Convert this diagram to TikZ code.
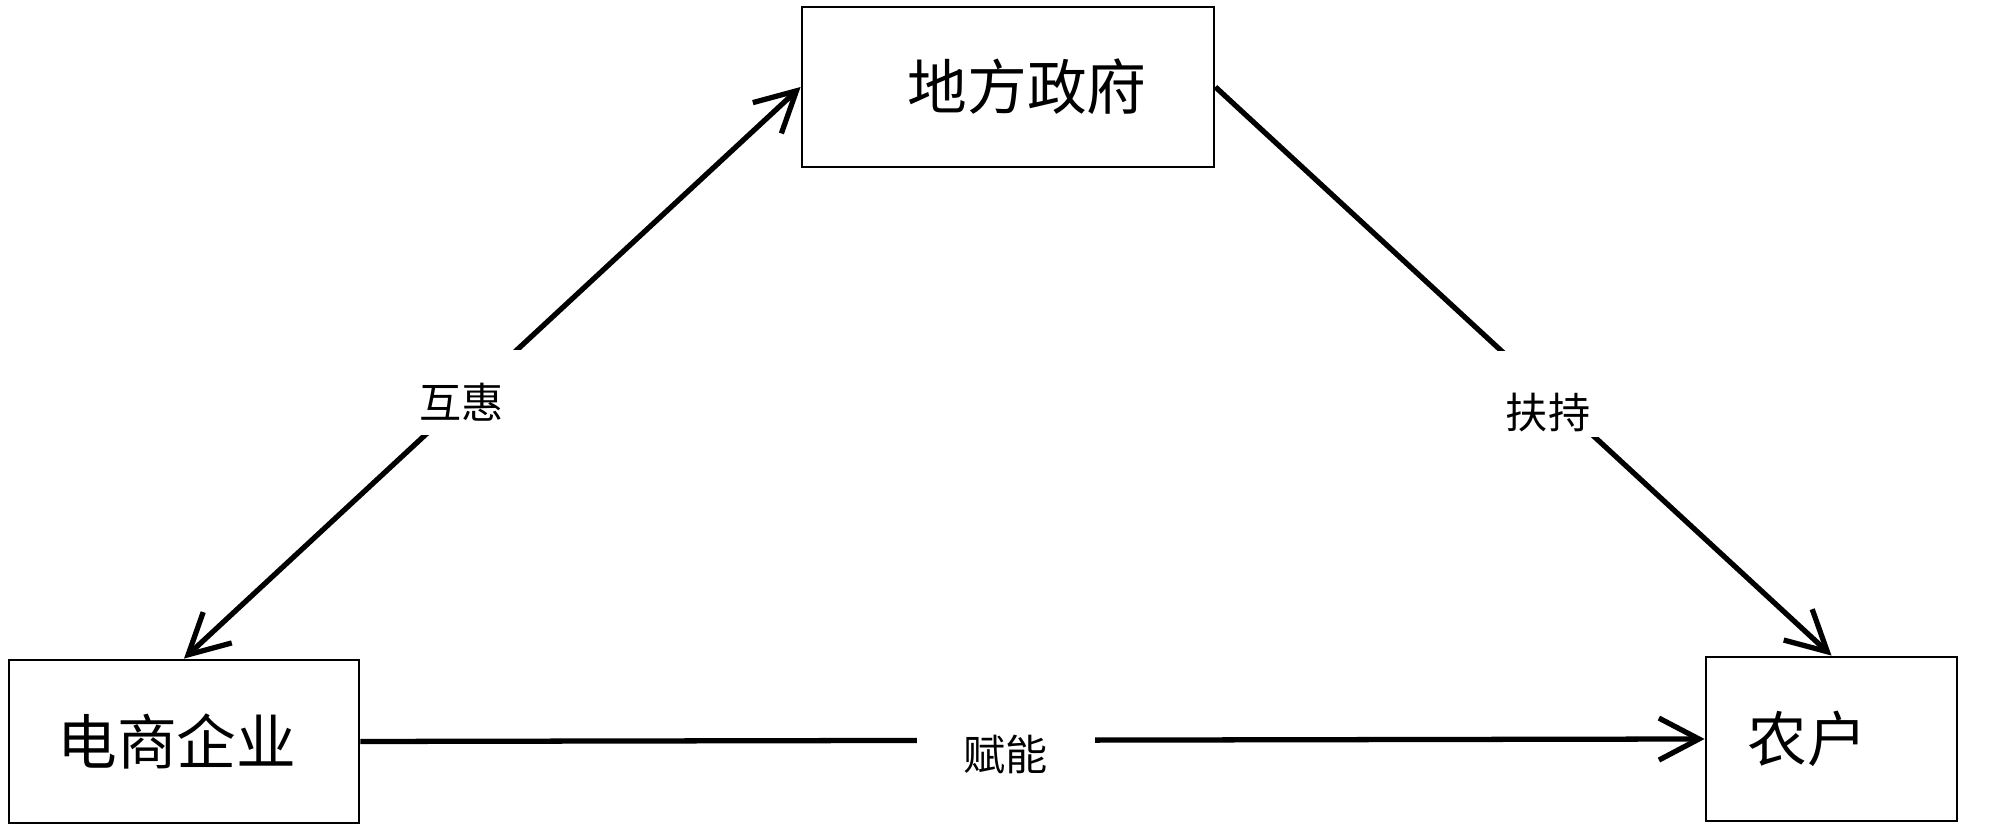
\documentclass[tikz,border=0pt]{standalone}
\usepackage{fontspec}
\usepackage{xcolor}
\usepackage{tikz}
\usetikzlibrary{arrows.meta,positioning}
\newfontfamily\cjk{Noto Sans CJK SC}

\begin{document}
\begin{tikzpicture}[
    actor/.style={draw, rectangle, line width=0.8pt, align=center, inner sep=0pt, font=\cjk\fontsize{17pt}{20pt}\selectfont},
    rel/.style={fill=white, inner sep=0pt, font=\cjk\fontsize{12pt}{14pt}\selectfont},
    arr/.style={-{Straight Barb[length=4mm, width=4.2mm]}, line width=1.5pt},
    biarr/.style={{Straight Barb[length=4mm, width=4.2mm]}-{Straight Barb[length=4mm, width=4.2mm]}, line width=1.5pt}
]
\useasboundingbox (0,0) rectangle (20,8.32);
\node[actor, minimum width=4.12cm, minimum height=1.60cm] (zhengfu) at (10.08, 7.45) {\hspace*{0.38cm}地方政府};
\node[actor, minimum width=3.50cm, minimum height=1.63cm] (dianshang) at (1.84, 0.905) {电商企业\hspace*{0.14cm}};
\node[actor, minimum width=2.51cm, minimum height=1.64cm] (nonghu) at (18.315, 0.93) {农户\hspace*{0.48cm}};
% relations
\draw[biarr] (dianshang.north) -- node[rel, pos=0.45, yshift=0.09cm, minimum width=1.3cm, text height=19.4pt, text depth=4.8pt] {互惠} (zhengfu.west);
\draw[arr] (zhengfu.east) -- node[rel, pos=0.54, minimum width=1.3cm, text height=22pt, text depth=2.5pt] {扶持} (nonghu.north);
\draw[arr] (dianshang.east) -- node[rel, pos=0.48, yshift=-0.14cm, minimum width=1.78cm, minimum height=0.8cm] {赋能} (nonghu.west);
\end{tikzpicture}
\end{document}
